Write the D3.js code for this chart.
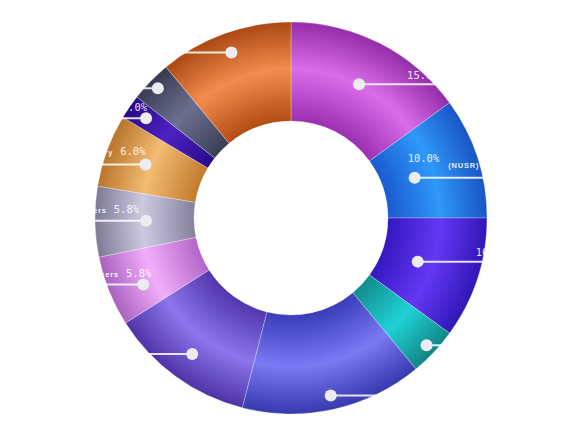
<!DOCTYPE html>
<html>
<head>
<meta charset="utf-8">
<script src="https://cdn.jsdelivr.net/npm/d3@7"></script>
<style>
  html, body { margin: 0; padding: 0; background: #ffffff; }
  svg { display: block; }
</style>
</head>
<body>
<svg id="chart" width="576" height="433"></svg>
<script>
// ---- data ----
const categories = [
  "Equities", "(NUSR)", "Bonds", "Cash", "Real Estate", "Commodities",
  "Producers", "Lenders", "Treasury", "Options", "Futures", "Other"
];
const values = [15.0, 10.0, 10.0, 4.0, 15.0, 12.0, 5.8, 5.8, 6.0, 2.0, 3.4, 11.0];
const percentLabels = values.map(v => v.toFixed(1) + "%");

// ---- styles / layout (not data) ----
const darkColors  = ["#9c30b2", "#1a5ad0", "#3418c0", "#128c8c", "#3a3cb8", "#5236ae",
                     "#b266c8", "#85819d", "#c27a2c", "#290a8a", "#3a3e54", "#b44c14"];
const lightColors = ["#da6cea", "#2f98fa", "#6438f4", "#1fd2d6", "#7a7af4", "#8c76ec",
                     "#f2aefa", "#cdc9e0", "#f2bc72", "#4e22c2", "#6c7090", "#f28c4e"];
const labelRadius = [150, 130, 134, 186, 182, 168, 162, 145, 155, 176, 186, 176];
const labelAngleShift = [0, 0, 1, 0, 0, 0, -2.3, 0, 0, 0, 0, 0];
const labelTextDx = [48, -7, 58, 22, 70, -60, 8, -7, 0, 1, -20, -45];
const labelTextDy = [5, 16, 6, 7, 7, 8, 8, 8, 10, 7, 7, 7];

const W = 576, H = 433;
const cx = 291, cy = 218;
const outerR = 196, innerR = 97;

const svg = d3.select("#chart");
const defs = svg.append("defs");

values.forEach((v, i) => {
  const g = defs.append("radialGradient")
    .attr("id", "grad" + i)
    .attr("gradientUnits", "userSpaceOnUse")
    .attr("cx", 0).attr("cy", 0).attr("r", outerR);
  g.append("stop").attr("offset", innerR / outerR).attr("stop-color", darkColors[i]);
  g.append("stop").attr("offset", 0.76).attr("stop-color", lightColors[i]);
  g.append("stop").attr("offset", 1).attr("stop-color", d3.color(darkColors[i]).darker(0.15));
});

const root = svg.append("g").attr("transform", `translate(${cx},${cy})`);

const pie = d3.pie().sort(null).value(d => d);
const arcs = pie(values);
const arc = d3.arc().innerRadius(innerR).outerRadius(outerR);

root.selectAll("path.slice")
  .data(arcs)
  .join("path")
  .attr("class", "slice")
  .attr("d", arc)
  .attr("fill", (d, i) => `url(#grad${i})`)
  .attr("stroke", "rgba(255,255,255,0.35)")
  .attr("stroke-width", 0.8);

// ---- labels ----
const labels = root.append("g");
arcs.forEach((d, i) => {
  const mid = (d.startAngle + d.endAngle) / 2 + labelAngleShift[i] * Math.PI / 180;
  const r = labelRadius[i];
  const x = Math.sin(mid) * r;
  const y = -Math.cos(mid) * r;
  const right = mid < Math.PI;
  const lineEnd = right ? W - cx : -cx;

  labels.append("line")
    .attr("x1", x).attr("y1", y)
    .attr("x2", lineEnd).attr("y2", y)
    .attr("stroke", "#ffffff")
    .attr("stroke-opacity", 0.85)
    .attr("stroke-width", 2);

  labels.append("circle")
    .attr("cx", x).attr("cy", y).attr("r", 6)
    .attr("fill", "#ecebf2");

  const pctY = y - labelTextDy[i];
  const pct = labels.append("text")
    .attr("x", x + labelTextDx[i])
    .attr("y", pctY)
    .attr("text-anchor", right ? "start" : "end")
    .attr("font-family", "'DejaVu Sans Mono', monospace")
    .attr("font-size", 10.5)
    .attr("fill", "#ffffff")
    .attr("fill-opacity", 0.92)
    .text(percentLabels[i]);
  const w = pct.node().getComputedTextLength();

  const nameText = labels.append("text")
    .attr("font-family", "'Liberation Sans', Arial, sans-serif")
    .attr("font-weight", "bold")
    .attr("font-size", 7.5)
    .attr("letter-spacing", 0.8)
    .attr("fill", "#ffffff")
    .attr("fill-opacity", 0.92)
    .text(categories[i]);
  if (right) {
    nameText.attr("x", x + labelTextDx[i] + w + 9)
      .attr("y", y - 10)
      .attr("text-anchor", "start");
  } else {
    nameText.attr("x", x + labelTextDx[i] - w - 7)
      .attr("y", pctY)
      .attr("text-anchor", "end");
  }
});
</script>
</body>
</html>
